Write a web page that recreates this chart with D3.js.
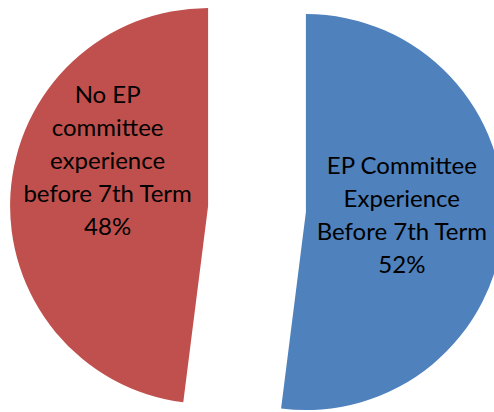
<!DOCTYPE html>
<html>
<head>
<meta charset="utf-8">
<script src="https://cdn.jsdelivr.net/npm/d3@7"></script>
<style>
  body { margin: 0; background: #fff; }
  text { font-family: Lato, "Open Sans", sans-serif; fill: #000; }
</style>
</head>
<body>
<script>
// slices in drawing order (clockwise from 12 o'clock)
var labels = [
    ["EP Committee", "Experience", "Before 7th Term"],
    ["No EP", "committee", "experience", "before 7th Term"]
];
var values = [52, 48];
var colors = ["#4F81BD", "#C0504D"];

var width = 494, height = 412;
var cx = 257, cy = 209,
    radius = 198,
    explode = 49,
    lineHeight = 33;

// label anchors relative to each exploded slice centre (radius, degrees)
var labelAnchor = [{r: 96, a: 92}, {r: 110, a: 294}];

var svg = d3.select("body").append("svg")
    .attr("width", width)
    .attr("height", height);

var pie = d3.pie().sort(null).value(function(d) { return d; });
var arc = d3.arc().innerRadius(0).outerRadius(radius);
var arcs = pie(values);

var slice = svg.selectAll(".slice")
    .data(arcs)
    .enter()
    .append("g")
    .attr("class", "slice")
    .attr("transform", function(d) {
        var mid = (d.startAngle + d.endAngle) / 2;
        return "translate(" + (cx + Math.sin(mid) * explode) + "," + (cy - Math.cos(mid) * explode) + ")";
    });

slice.append("path")
    .attr("d", arc)
    .attr("fill", function(d, i) { return colors[i]; });

// labels: name lines + percentage
slice.each(function(d, i) {
    var a = labelAnchor[i].a * Math.PI / 180,
        lx = Math.sin(a) * labelAnchor[i].r,
        ly = -Math.cos(a) * labelAnchor[i].r;
    var lines = labels[i].concat([Math.round(d.value) + "%"]);
    var n = lines.length;
    d3.select(this).append("text")
        .attr("text-anchor", "middle")
        .style("font-size", "24px")
        .selectAll("tspan")
        .data(lines)
        .enter()
        .append("tspan")
        .attr("x", lx)
        .attr("y", function(t, j) { return ly + (j - (n - 1) / 2) * lineHeight + 8; })
        .text(function(t) { return t; });
});
</script>
</body>
</html>
